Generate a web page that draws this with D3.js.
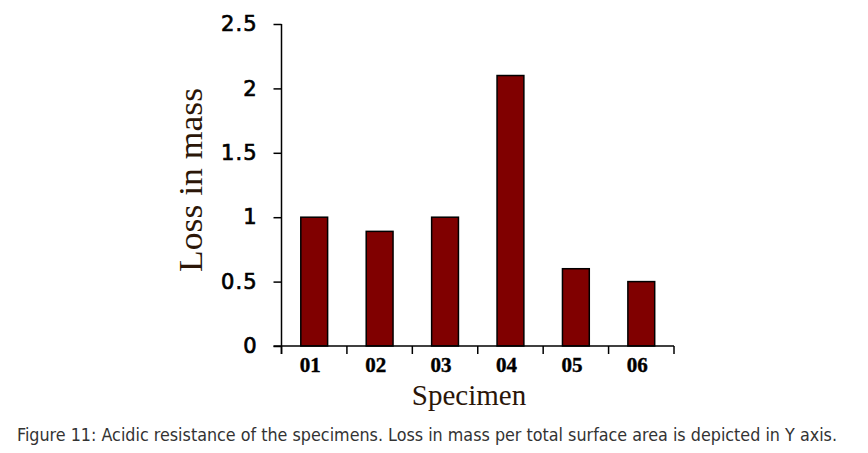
<!DOCTYPE html>
<html>
<head>
<meta charset="utf-8">
<script src="https://cdn.jsdelivr.net/npm/d3@7"></script>
<style>
  html, body { margin: 0; padding: 0; background: #fff; }
  svg { display: block; }
</style>
</head>
<body>
<svg id="chart" width="868" height="453"></svg>
<script>
const categories = ["01", "02", "03", "04", "05", "06"];
const values = [1.0, 0.89, 1.0, 2.1, 0.6, 0.5];
const yTicks = [0, 0.5, 1, 1.5, 2, 2.5];
const yTickLabels = ["0", "0.5", "1", "1.5", "2", "2.5"];
const xTitle = "Specimen";
const yTitle = "Loss in mass";
const caption = "Figure 11: Acidic resistance of the specimens. Loss in mass per total surface area is depicted in Y axis.";

(function () {
const svg = d3.select("#chart");
const mLeft = 281.5, mRight = 674, mTop = 24, mBottom = 346;

const x = d3.scaleBand().domain(categories).range([mLeft, mRight])
  .paddingInner(0.59).paddingOuter(0.295);
const y = d3.scaleLinear().domain([0, 2.5]).range([mBottom, mTop]);

// bars
svg.append("g").selectAll("rect").data(values).join("rect")
  .attr("x", (d, i) => x(categories[i]))
  .attr("width", x.bandwidth())
  .attr("y", d => y(d))
  .attr("height", d => y(0) - y(d))
  .attr("fill", "#800000")
  .attr("stroke", "#000")
  .attr("stroke-width", 1.5);

// y axis
const yAxis = d3.axisLeft(y).tickValues(yTicks)
  .tickFormat((d, i) => yTickLabels[i]).tickSize(8).tickPadding(16).tickSizeOuter(0);
const gy = svg.append("g").attr("transform", `translate(${mLeft},0)`).call(yAxis);
gy.select(".domain").remove();
gy.append("line").attr("x1", 0).attr("x2", 0).attr("y1", mTop).attr("y2", mBottom + 8)
  .attr("stroke", "#000").attr("stroke-width", 1.5);
gy.selectAll(".tick line").attr("stroke", "#000").attr("stroke-width", 1.5);
gy.selectAll(".tick text")
  .attr("font-family", "'DejaVu Sans', Verdana, sans-serif")
  .attr("font-size", 21)
  .attr("fill", "#000")
  .attr("stroke", "#000")
  .attr("stroke-width", 0.7)
  .attr("letter-spacing", 1);

// x axis line with boundary ticks
const step = x.step();
const gx = svg.append("g");
gx.append("line").attr("x1", mLeft - 8).attr("x2", mRight).attr("y1", mBottom).attr("y2", mBottom)
  .attr("stroke", "#000").attr("stroke-width", 1.5);
gx.selectAll("line.b").data(d3.range(categories.length + 1)).join("line")
  .attr("class", "b")
  .attr("x1", i => mLeft + i * step).attr("x2", i => mLeft + i * step)
  .attr("y1", mBottom).attr("y2", mBottom + 8)
  .attr("stroke", "#000").attr("stroke-width", 1.5);
gx.selectAll("text").data(categories).join("text")
  .attr("x", d => x(d) + x.bandwidth() / 2 - 4)
  .attr("y", 372)
  .attr("text-anchor", "middle")
  .attr("font-family", "'Liberation Serif', 'Times New Roman', serif")
  .attr("font-weight", "bold")
  .attr("font-size", 21)
  .attr("fill", "#000")
  .attr("stroke", "#000")
  .attr("stroke-width", 0.4)
  .text(d => d);

// axis titles
svg.append("text")
  .attr("x", 469).attr("y", 405)
  .attr("text-anchor", "middle")
  .attr("font-family", "'Liberation Serif', 'Times New Roman', serif")
  .attr("font-size", 29)
  .attr("fill", "#2b1608")
  .text(xTitle);

svg.append("text")
  .attr("transform", "translate(202,180) rotate(-90)")
  .attr("text-anchor", "middle")
  .attr("font-family", "'Liberation Serif', 'Times New Roman', serif")
  .attr("font-size", 33)
  .attr("textLength", 184)
  .attr("lengthAdjust", "spacingAndGlyphs")
  .attr("fill", "#2b1608")
  .text(yTitle);

// caption
svg.append("text")
  .attr("x", 17).attr("y", 441)
  .attr("font-family", "'DejaVu Sans Condensed', 'Roboto Condensed', Roboto, sans-serif")
  .attr("font-size", 17.5)
  .attr("textLength", 820)
  .attr("lengthAdjust", "spacingAndGlyphs")
  .attr("fill", "#333")
  .text(caption);
})();
</script>
</body>
</html>
